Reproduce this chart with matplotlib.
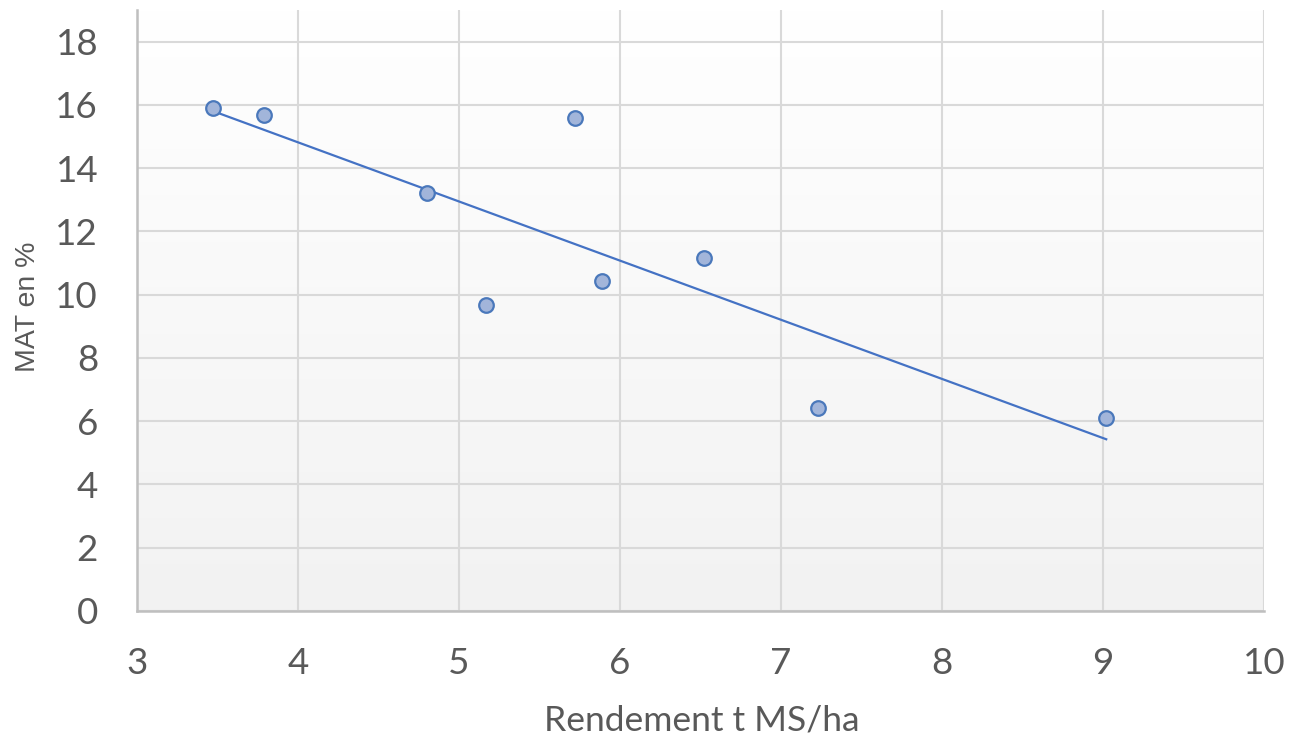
import numpy as np
import matplotlib
matplotlib.use("Agg")
import matplotlib.pyplot as plt
from matplotlib.colors import LinearSegmentedColormap

# Data
rendement = [3.47, 3.79, 4.80, 5.17, 5.72, 5.89, 6.52, 7.23, 9.02]
mat = [15.90, 15.68, 13.21, 9.68, 15.57, 10.43, 11.15, 6.43, 6.11]
x_ticks = [3, 4, 5, 6, 7, 8, 9, 10]
y_ticks = [0, 2, 4, 6, 8, 10, 12, 14, 16, 18]
x_label = "Rendement t MS/ha"
y_label = "MAT en %"

plt.rcParams['font.family'] = ['Lato', 'DejaVu Sans']

fig = plt.figure(figsize=(12.89, 7.40), dpi=100)
ax = fig.add_axes([137/1289, 129/740, (1264-137)/1289, (611-10)/740])

ax.set_xlim(3, 10)
ax.set_ylim(0, 19)

# gradient background
cmap = LinearSegmentedColormap.from_list("bg", ["#f2f2f2", "#ffffff"])
grad = np.linspace(0, 1, 256).reshape(-1, 1)
ax.imshow(grad, aspect='auto', cmap=cmap, origin='lower',
          extent=[0, 1, 0, 1], transform=ax.transAxes, zorder=0)

ax.set_xticks(x_ticks)
ax.set_yticks(y_ticks)
ax.grid(True, color="#d9d9d9", linewidth=1.5, zorder=1)
ax.set_axisbelow(True)

for s in ['top', 'right']:
    ax.spines[s].set_visible(False)
for s in ['left', 'bottom']:
    ax.spines[s].set_color("#bfbfbf")
    ax.spines[s].set_linewidth(1.8)

ax.tick_params(axis='both', length=0, labelsize=26.5, labelcolor="#595959")
ax.tick_params(axis='x', pad=26)
ax.tick_params(axis='y', pad=28)

# trendline
xs = np.array(rendement)
ys = np.array(mat)
a, b = np.polyfit(xs, ys, 1)
xl = np.array([xs.min(), xs.max()])
ax.plot(xl, a * xl + b, color="#4472c4", linewidth=1.6, zorder=3)

ax.plot(rendement, mat, linestyle='none', marker='o', markersize=10.5,
        markerfacecolor="#a2b5da", markeredgecolor="#4a78bb",
        markeredgewidth=1.6, zorder=4, clip_on=False)

fig.text(702 / 1289, 1 - 720 / 740, x_label,
         ha='center', va='center', fontsize=25.5, color="#595959")
fig.text(28 / 1289, 1 - 307 / 740, y_label, rotation=90, ha='center',
         va='center', fontsize=20.5, color="#595959",
         family=['Liberation Sans', 'DejaVu Sans'])

fig.savefig("out.png", dpi=100)
